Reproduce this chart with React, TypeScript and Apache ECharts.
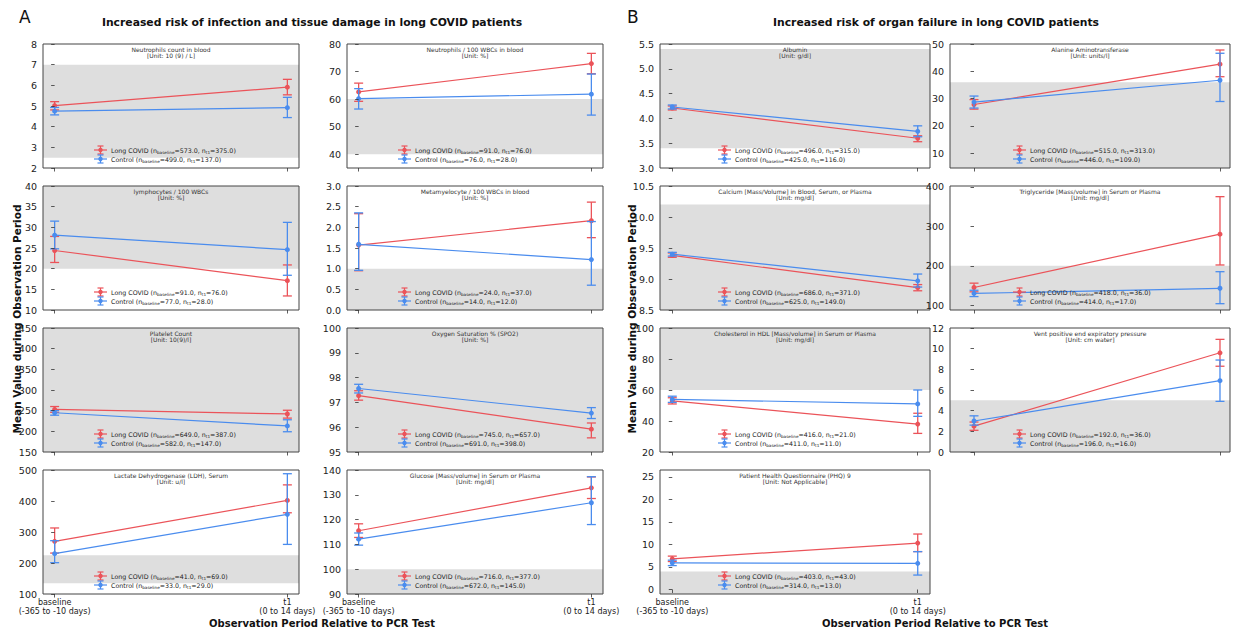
import React, { useEffect, useRef } from 'react';
import * as echarts from 'echarts';

const FONT = '"DejaVu Sans", sans-serif';
const RED = '#eb5359';
const BLUE = '#4a8cee';
const BAND = '#dedede';

// x positions: baseline = 0, t1 = 1
const periods = [0, 1];
const periodLabels = ['baseline\n(-365 to -10 days)', 't1\n(0 to 14 days)'];

const panelTitles = [
  'Neutrophils count in blood',
  'Neutrophils / 100 WBCs in blood',
  'lymphocytes / 100 WBCs',
  'Metamyelocyte / 100 WBCs in blood',
  'Platelet Count',
  'Oxygen Saturation % (SPO2)',
  'Lactate Dehydrogenase (LDH), Serum',
  'Glucose [Mass/volume] in Serum or Plasma',
  'Albumin',
  'Alanine Aminotransferase',
  'Calcium [Mass/Volume] in Blood, Serum, or Plasma',
  'Triglyceride [Mass/volume] in Serum or Plasma',
  'Cholesterol in HDL [Mass/volume] in Serum or Plasma',
  'Vent positive end expiratory pressure',
  'Patient Health Questionnaire (PHQ) 9',
];
const panelUnits = [
  '10 (9) / L', '%', '%', '%', '10(9)/l', '%', 'u/l', 'mg/dl',
  'g/dl', 'units/l', 'mg/dl', 'mg/dl', 'mg/dl', 'cm water', 'Not Applicable',
];

// Long COVID: mean, lower, upper at [baseline, t1]
const longMean = [
  [5.02, 5.91], [62.6, 72.9], [24.4, 17.1], [1.57, 2.16], [253, 242], [97.27, 95.92], [270, 402], [115.5, 132.8],
  [4.21, 3.6], [27.8, 42.6], [9.38, 8.86], [145, 280], [53, 38], [2.5, 9.6], [6.8, 10.3],
];
const longLo = [
  [4.81, 5.54], [59.2, 69.2], [21.5, 13.4], [0.95, 1.75], [246, 232], [97.09, 95.57], [232, 362], [112.8, 128.5],
  [4.17, 3.53], [26.1, 38.0], [9.35, 8.81], [134, 202], [51, 32], [2.1, 8.3], [6.2, 8.4],
];
const longHi = [
  [5.21, 6.29], [65.8, 76.6], [27.8, 20.9], [2.33, 2.61], [260, 251], [97.47, 96.17], [313, 452], [118.3, 137.2],
  [4.25, 3.65], [29.6, 47.8], [9.42, 8.91], [156, 375], [55, 45], [2.9, 10.9], [7.4, 12.3],
];
// Control
const ctrlMean = [
  [4.75, 4.92], [60.2, 61.8], [28.1, 24.6], [1.59, 1.22], [245, 213], [97.56, 96.57], [230, 357], [112.1, 126.8],
  [4.23, 3.74], [28.7, 36.7], [9.4, 8.97], [130, 143], [54, 51], [3.0, 6.9], [5.9, 5.8],
];
const ctrlLo = [
  [4.57, 4.44], [56.4, 54.2], [24.8, 18.4], [0.96, 0.6], [239, 199], [97.38, 96.35], [201, 260], [109.7, 118.0],
  [4.19, 3.63], [26.5, 28.9], [9.37, 8.87], [122, 104], [52, 43], [2.6, 4.9], [5.3, 3.2],
];
const ctrlHi = [
  [4.93, 5.42], [63.8, 69.1], [31.5, 31.2], [2.35, 2.14], [250, 228], [97.73, 96.79], [272, 488], [114.6, 137.3],
  [4.27, 3.85], [30.9, 46.6], [9.43, 9.08], [138, 185], [56, 60], [3.5, 8.9], [6.5, 8.4],
];

// reference (normal) range bands
const bandLo = [2.5, 40, 20, 0, 150, 95, 135, 90, 3.4, 4.5, 8.5, 88, 60, 0, -1];
const bandHi = [7.0, 60, 40, 1, 450, 100, 225, 100, 5.4, 36, 10.2, 200, 100, 5, 4];

// sample sizes
const nLongBase = [573, 91, 91, 24, 649, 745, 41, 716, 496, 515, 686, 418, 416, 192, 403];
const nLongT1 = [375, 76, 76, 37, 387, 657, 69, 377, 315, 313, 371, 36, 21, 36, 43];
const nCtrlBase = [499, 76, 77, 14, 582, 691, 33, 672, 425, 446, 625, 414, 411, 196, 314];
const nCtrlT1 = [137, 28, 28, 12, 147, 398, 29, 145, 116, 109, 149, 17, 11, 16, 13];

// y axes
const yMin = [2, 35, 10, 0, 150, 95, 100, 90, 3.0, 4.5, 8.5, 88, 20, 0, -1];
const yMax = [8, 80, 40, 3, 450, 100, 500, 140, 5.5, 50, 10.5, 402, 100, 12, 26.5];
const yTicks = [
  [2, 3, 4, 5, 6, 7, 8],
  [40, 50, 60, 70, 80],
  [10, 15, 20, 25, 30, 35, 40],
  [0, 0.5, 1, 1.5, 2, 2.5, 3],
  [150, 200, 250, 300, 350, 400, 450],
  [95, 96, 97, 98, 99, 100],
  [100, 200, 300, 400, 500],
  [90, 100, 110, 120, 130, 140],
  [3, 3.5, 4, 4.5, 5, 5.5],
  [10, 20, 30, 40, 50],
  [8.5, 9, 9.5, 10, 10.5],
  [100, 200, 300, 400],
  [20, 40, 60, 80, 100],
  [0, 2, 4, 6, 8, 10, 12],
  [0, 5, 10, 15, 20, 25],
];
const yDecimals = [0, 0, 0, 1, 0, 0, 0, 0, 1, 0, 1, 0, 0, 0, 0];

// layout
const panelCol = [0, 1, 0, 1, 0, 1, 0, 1, 2, 3, 2, 3, 2, 3, 2];
const panelRow = [0, 0, 1, 1, 2, 2, 3, 3, 0, 0, 1, 1, 2, 2, 3];
const bottomPanels = [6, 7, 14];
const colLeft = [43, 347, 660, 950];
const colWidth = [256, 256, 270, 280];
const xMin = [-0.05, -0.05, -0.05, -0.0976];
const xMax = [1.05, 1.05, 1.05, 1.0407];
const rowTop = [44, 186, 328, 470];
const rowHeight = 124;

const TOP_Z = 100;

function errRender(color: string) {
  return (params: any, api: any) => {
    const x = api.value(0);
    const pLo = api.coord([x, api.value(1)]);
    const pHi = api.coord([x, api.value(2)]);
    const w = 4.5;
    const style = { stroke: color, lineWidth: 1.3, fill: 'none' };
    return {
      type: 'group',
      children: [
        { type: 'line', shape: { x1: pLo[0], y1: pLo[1], x2: pHi[0], y2: pHi[1] }, style },
        { type: 'line', shape: { x1: pLo[0] - w, y1: pLo[1], x2: pLo[0] + w, y2: pLo[1] }, style },
        { type: 'line', shape: { x1: pHi[0] - w, y1: pHi[1], x2: pHi[0] + w, y2: pHi[1] }, style },
      ],
    };
  };
}

function bandRender(params: any, api: any) {
  const cs = params.coordSys;
  const a = api.coord([0, api.value(1)])[1];
  const b = api.coord([0, api.value(2)])[1];
  const top = Math.max(cs.y, Math.min(a, b));
  const bot = Math.min(cs.y + cs.height, Math.max(a, b));
  return {
    type: 'rect',
    shape: { x: cs.x, y: top, width: cs.width, height: Math.max(0, bot - top) },
    style: { fill: BAND },
  };
}

function legendRow(x0: number, y: number, color: string, text: string) {
  const st = { stroke: color, lineWidth: 1.2 };
  const ix = x0 + 6.5;
  return [
    { type: 'line', z: TOP_Z, silent: true, shape: { x1: x0, y1: y, x2: x0 + 13, y2: y }, style: st },
    { type: 'line', z: TOP_Z, silent: true, shape: { x1: ix, y1: y - 4, x2: ix, y2: y + 4 }, style: st },
    { type: 'line', z: TOP_Z, silent: true, shape: { x1: ix - 3, y1: y - 4, x2: ix + 3, y2: y - 4 }, style: st },
    { type: 'line', z: TOP_Z, silent: true, shape: { x1: ix - 3, y1: y + 4, x2: ix + 3, y2: y + 4 }, style: st },
    { type: 'circle', z: TOP_Z, silent: true, shape: { cx: ix, cy: y, r: 2.2 }, style: { fill: color } },
    {
      type: 'text',
      z: TOP_Z,
      silent: true,
      x: x0 + 17,
      y: y,
      style: {
        text,
        fontFamily: FONT,
        fontSize: 6.3,
        lineHeight: 8,
        fill: '#222',
        align: 'left',
        verticalAlign: 'middle',
        rich: {
          s: { fontSize: 4.2, fontFamily: FONT, fill: '#222', verticalAlign: 'bottom', lineHeight: 5 },
        },
      },
    },
  ];
}

const f1 = (v: number) => v.toFixed(1);

function buildOption() {
  const grids: any[] = [];
  const xAxes: any[] = [];
  const yAxes: any[] = [];
  const series: any[] = [];
  const graphics: any[] = [];

  for (let i = 0; i < panelTitles.length; i++) {
    const col = panelCol[i];
    const row = panelRow[i];
    const left = colLeft[col];
    const width = colWidth[col];
    const top = rowTop[row];
    const height = rowHeight;
    const isBottom = bottomPanels.indexOf(i) >= 0;

    grids.push({
      left, top, width, height,
      show: true, borderColor: '#444', borderWidth: 1, backgroundColor: 'rgba(0,0,0,0)',
      containLabel: false, outerBoundsMode: 'none', z: 20,
    });
    xAxes.push({
      type: 'value', gridIndex: i, min: xMin[col], max: xMax[col], z: 20,
      axisLine: { show: false }, splitLine: { show: false },
      axisTick: { show: true, customValues: periods, length: 3.5, lineStyle: { color: '#333', width: 0.8 } },
      axisLabel: {
        show: isBottom, customValues: periods,
        formatter: (v: number) => periodLabels[Math.round(v)],
        fontSize: 8, lineHeight: 9, margin: 4, color: '#222', fontFamily: FONT,
      },
    });
    const dec = yDecimals[i];
    yAxes.push({
      type: 'value', gridIndex: i, min: yMin[i], max: yMax[i], z: 20,
      axisLine: { show: false }, splitLine: { show: false },
      axisTick: { show: true, customValues: yTicks[i], length: 3.5, lineStyle: { color: '#333', width: 0.8 } },
      axisLabel: {
        customValues: yTicks[i],
        formatter: (v: number) => v.toFixed(dec),
        fontSize: 9.5, margin: 6, color: '#222', fontFamily: FONT,
      },
    });

    series.push({
      type: 'custom', xAxisIndex: i, yAxisIndex: i, silent: true, z: 1,
      data: [[0, bandLo[i], bandHi[i]]], encode: { x: 0, y: [1, 2] },
      renderItem: bandRender,
    });
    const groups = [
      { mean: longMean[i], lo: longLo[i], hi: longHi[i], color: RED },
      { mean: ctrlMean[i], lo: ctrlLo[i], hi: ctrlHi[i], color: BLUE },
    ];
    groups.forEach((g, gi) => {
      series.push({
        type: 'custom', xAxisIndex: i, yAxisIndex: i, silent: true, z: 3 + gi * 2, clip: true,
        data: periods.map((p, k) => [p, g.lo[k], g.hi[k]]), encode: { x: 0, y: [1, 2] },
        renderItem: errRender(g.color),
      });
      series.push({
        type: 'line', name: gi === 0 ? 'Long COVID' : 'Control',
        xAxisIndex: i, yAxisIndex: i, silent: true, z: 4 + gi * 2,
        data: periods.map((p, k) => [p, g.mean[k]]),
        symbol: 'circle', symbolSize: 5, showSymbol: true,
        lineStyle: { color: g.color, width: 1.2 },
        itemStyle: { color: g.color, borderWidth: 0 },
        emphasis: { disabled: true },
      });
    });

    const cx = left + width / 2;
    graphics.push({
      type: 'text', x: cx, y: top + 2, silent: true, z: TOP_Z,
      style: {
        text: panelTitles[i] + '\n[Unit: ' + panelUnits[i] + ']',
        fontFamily: FONT, fontSize: 6, lineHeight: 6.5, fill: '#333',
        align: 'center', verticalAlign: 'top',
      },
    });
    const bottom = top + height;
    const lx = cx - 77;
    graphics.push(...legendRow(lx, bottom - 18, RED, 'Long COVID (n{s|baseline}=' + f1(nLongBase[i]) + ', n{s|t1}=' + f1(nLongT1[i]) + ')'));
    graphics.push(...legendRow(lx, bottom - 9, BLUE, 'Control (n{s|baseline}=' + f1(nCtrlBase[i]) + ', n{s|t1}=' + f1(nCtrlT1[i]) + ')'));
  }

  const bigText = (text: string, x: number, y: number, size: number, bold: boolean, rot = 0, align = 'center') => ({
    type: 'text', x, y, rotation: rot, silent: true, z: TOP_Z,
    style: {
      text, fontFamily: FONT, fontSize: size, fontWeight: bold ? 'bold' : 'normal', fill: '#111',
      align, verticalAlign: 'middle',
    },
  });
  graphics.push(bigText('A', 19, 17, 17, false, 0, 'left'));
  graphics.push(bigText('B', 627, 17, 17, false, 0, 'left'));
  graphics.push(bigText('Increased risk of infection and tissue damage in long COVID patients', 312, 22, 10.8, true));
  graphics.push(bigText('Increased risk of organ failure in long COVID patients', 936, 22, 10.8, true));
  graphics.push(bigText('Mean Value during Observation Period', 17, 319, 10.5, true, Math.PI / 2));
  graphics.push(bigText('Mean Value during Observation Period', 632, 319, 10.5, true, Math.PI / 2));
  graphics.push(bigText('Observation Period Relative to PCR Test', 322, 623, 10, true));
  graphics.push(bigText('Observation Period Relative to PCR Test', 935, 623, 10, true));

  return {
    animation: false,
    backgroundColor: '#ffffff',
    textStyle: { fontFamily: FONT },
    grid: grids,
    xAxis: xAxes,
    yAxis: yAxes,
    series,
    graphic: { elements: graphics },
  };
}

export default function App() {
  const ref = useRef<HTMLDivElement>(null);
  useEffect(() => {
    if (!ref.current) return;
    const chart = echarts.init(ref.current, null, { renderer: 'svg' });
    chart.setOption(buildOption() as any);
    return () => chart.dispose();
  }, []);
  return (
    <div
      ref={ref}
      style={{ position: 'absolute', left: 0, top: 0, width: 1238, height: 635, background: '#fff' }}
    />
  );
}
